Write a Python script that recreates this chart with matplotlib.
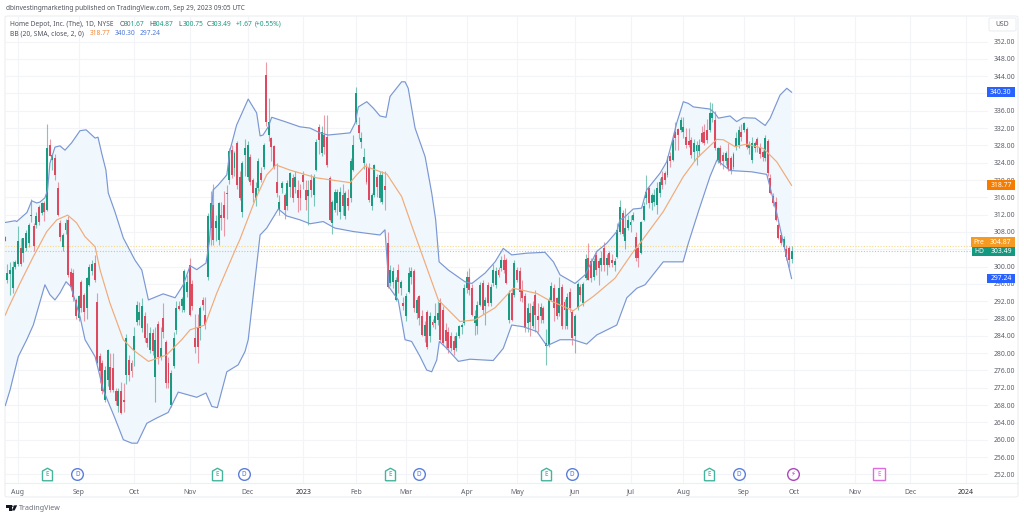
"""
Home Depot daily candles with Bollinger Bands, TradingView look
"""
import numpy as np
import matplotlib
matplotlib.use('Agg')
import matplotlib.pyplot as plt
from matplotlib.patches import FancyBboxPatch, Polygon, Rectangle, Circle
from matplotlib.path import Path
from matplotlib.transforms import blended_transform_factory

# candles, first bar is index -5 (last days of July 2022)
opens = [
    306.8,297,298.4,295,300,300.5,304.3,303.1,304.3,305.4,
    311.8,309.3,309.5,313.7,312.4,314.7,313.1,328.1,324.7,325,
    318.1,310,304.6,308.5,310.8,298.8,298.5,292.3,288.1,296.5,
    293.4,290.4,295.8,299,300.8,291.9,279.4,277.7,269.2,273.8,
    276.9,276.5,271.2,267.7,271.2,269.2,275,278.5,277.7,280.8,
    287.3,287.7,285.8,288.5,283.5,280.8,284.6,274.6,286.8,279.2,
    288.1,282.5,277.7,268.1,277,285.4,290.8,291,290,294.2,
    300.4,296,283.5,285.8,285.8,292.3,288.9,297.6,308.9,314.3,
    309,306.2,311.9,314.3,317,320,327,322.7,328.6,320.8,
    312.7,325.8,320.8,325.3,320,315.8,318.1,321.6,323.1,344.3,
    330.4,329.7,327.9,319.6,313.1,318.1,316.6,313.9,318.5,320.4,
    318.5,317.6,317.6,321.2,317.7,316.2,320,316.6,322.3,332.3,
    326.2,330.4,330,320.4,310,313.1,314.7,312.7,316.6,311.6,
    315.8,315.8,322.3,333.5,332.7,328.9,323.9,323.1,323.1,313.9,
    316.6,320.8,315.8,315,318.6,305.4,296.2,296.5,292.3,299.2,
    295,291.7,288.5,294.2,297.7,298.9,289.2,293.1,288.5,283.9,
    289.6,283.9,287.3,287,287.7,291.5,290,285.4,285,283.9,
    282.7,281.2,283.9,286,287,295,297.7,295,287,286.2,
    291.2,296.2,290.8,295.8,291.5,296.2,295.8,299.2,299.6,301.5,
    301.5,287.7,294,293.5,299.2,298.9,294.6,293.1,286.9,289.2,
    286.2,293.5,288.6,288.5,290.4,281.7,282,292.3,295,292.7,
    289.2,295.4,291.9,286.3,294.2,289.6,283.9,290.4,295.4,291.5,
    297.3,301.9,301.2,297.7,302.7,301.2,300.4,304.2,300.4,303.1,
    301.5,300.4,302.3,308,312.3,306,308.9,309.6,310.8,306.9,
    304.2,303.1,310.8,315.8,318.1,314.7,315,314.3,317,320.8,
    321.6,321.2,325.5,324.7,331.2,331.9,331.6,331.2,330,329,
    329.3,326.5,326.8,326.8,330.8,331.2,331.6,331.6,334.3,333.9,
    324.6,327.3,325.8,324.3,325,325,322.9,327.9,328.1,331.2,
    331.6,331.9,327.5,324.6,327.3,329.4,327.3,326.5,325,329,
    320.4,316.2,315,309.6,307.3,304.6,304,304.2,301.67,
]
highs = [
    307,300.5,301,301.2,301.5,309.3,306.5,306,308.5,310,
    315.6,310,312.5,314.2,315,315.2,333,329.5,326,326,
    319.6,310.8,307.7,311,311.6,299.6,299.5,292.8,293.5,297,
    294,297.5,300.5,301.5,302.7,294,280,278.5,277,281,
    280,280,272,272,273.4,273,284.5,279.5,278.5,286,
    292,291.8,292.8,289.5,287,286,285.5,286,287.5,286,
    291.5,283,279,276,285,292,292,293,299.5,298,
    302,297,289,289,291,293,293,312.3,317.5,319,
    312,315,315,317.5,318.8,327.5,328,326.8,329,322,
    324.5,329.5,329,326,320.5,319.5,325,323,328.5,347.2,
    339,330,328,324,316.5,319.8,317,320,321.9,321.5,
    322,320,319,322,320,320,321.5,321.5,329.5,333,
    332.5,335,335,321,315.5,318,318,318.5,319,317.5,
    318,325,330.4,341.4,334.5,331,327.5,324,324,317,
    323.8,321.5,322,322,322,308.1,300.4,300,297.5,300.5,
    297,293,294,300,300,299.5,293,293.5,290,287.5,
    290,289.5,288,291.5,292,292.8,291,287,286,285,
    284,285,286.5,287,296,299,299.7,296,290,292,
    296.5,297,293,296.5,296,300.5,300,300,302.5,303,
    302,294.5,295,301.5,300,300,297,294,291.5,291.5,
    292,294.5,291.5,291.5,291,285.5,293,296.5,296,293,
    297.5,296,292.5,294,295,290,289,296.5,296,296.5,
    303,305.4,302,302,303.5,302,303.5,305.6,303,303.5,
    303,302,310,315.3,313,313.5,312,312,312.5,307.9,
    304.7,310.6,315,321.2,318.5,317,318,319.5,320.5,322,
    322,325.5,326.5,330,333.5,332,334.5,334.6,332,332,
    330,329.5,329,329.5,332.5,333,334,338,337.8,336,
    327.7,328,326.5,326.8,328.5,325.5,326.5,331,332.5,333,
    333.5,332.3,329,330,329,330,328.5,327,330.5,329.5,
    321.5,317,316,310,308,307,305,304.8,304.87,
]
lows = [
    305.8,296.2,293.5,294,299.5,300.2,300.2,301,303.5,304.5,
    310.4,303.5,309,309.5,312,310.5,312.8,325.5,322.4,320,
    311.6,305.8,303.5,307.5,297.7,294.6,292,288,287.5,289.5,
    287.5,288,295.5,298,296.5,277.5,273,270.5,268.8,272.5,
    271,271,268,266.5,265.9,266.5,272.8,273.5,274.5,277,
    286.5,286.5,285,282.5,281.5,280,279.5,268.8,277.5,278.5,
    283.5,272,272,267.5,276.5,284.5,290,289.5,289.5,293,
    288.5,290,280,277.8,283,290,285.5,297,305,305,
    306,305,308.5,307,311,319,320.5,321,318,315.5,
    311.5,321,320,318.8,315,314,317.5,319.5,322.5,332.5,
    329,324.5,322.5,316,312,317,311,313,316,315,
    317,312.5,313,318,313,309.6,316,314,322,326,
    325.5,326,323,310.5,307.5,312.5,312,311,312,311,
    313,315,322,333,329.5,327.5,322.5,319,315,313,
    316,316,315,314.5,313,295,295.5,295,292,294,
    293.5,290,287.5,294,296,289.5,288,286.5,284,282.5,
    281,282.5,286,285.5,286.5,282.5,282,281,280,280.5,
    279.5,280.5,283.5,284.5,286.5,294,293.5,288.5,284.3,284.5,
    291,289,286.5,291,291,295.5,295,297.5,299,298.5,
    296,287,287.5,293,296.5,292,291.8,285,285,284,
    285.8,285,284.8,287,287,277.3,281.5,292,287.5,288,
    288.5,285.5,285.5,285.5,289.5,282,280,290,292,291,
    297,297,296.5,297,298,295.7,299,299,298,300,
    300,299,302,307.5,307,304,308.5,308,310.5,301.2,
    300,302.8,310.5,314.5,313.5,313,314,312.2,316,318,
    319,320.7,323,324.5,327,327,331,329.6,327.5,327.7,
    325.2,324.5,323.5,325.5,328.5,328,328.5,331,333.5,327,
    324,323.5,322.5,323.5,322,321.5,322.5,327,327.5,329,
    331,327.2,326,324,326.5,326.5,325,324.5,324.5,321,
    316.8,314,310.5,306.3,305,304.3,301.5,300,300.75,
]
closes = [
    306,298.5,299.2,300,301,305.8,300.5,306.6,307.8,309.7,
    312,304.7,311.6,310.4,314.8,312.7,327.3,325.6,325.8,321.2,
    312,306.8,307.4,310,298.1,295.4,292.9,288.5,293.2,290.5,
    289.6,297.3,300,300.5,297,277.7,275.8,271.2,276.2,280.8,
    271.5,271.5,268.9,271.2,266.2,268.6,283.4,275,275.8,283.9,
    291.2,289.6,290.8,283.5,282.3,284.6,280.4,283,279.2,281.3,
    285,273,273,275.4,283.5,290.4,290.3,292.5,298.9,296.5,
    288.9,291,281.5,281.5,290.4,291.2,286.5,311.7,314.8,306.2,
    310.5,314.8,311.2,311.2,316.7,326.6,321.2,326.3,318.9,315.8,
    323.9,327.3,328.1,319.6,317,318.1,324.3,320,328.1,333.5,
    333.5,327.7,323.1,317,315,319.3,313.1,319.3,321.6,315.8,
    320.8,315.8,315.8,319.6,315.4,317.7,317.7,320.8,328.9,329.3,
    331.2,327.7,323.5,310.8,315,317.3,317.3,317.3,313.9,317,
    313.9,324.3,328.1,340,330.8,329.7,325.3,319.6,315.4,316.6,
    323.5,318.5,321.2,321.2,317.7,295.4,299.2,298.9,296.9,296.5,
    296.5,290.8,293.1,298.5,298.9,290.4,292.3,288.1,284.2,286.5,
    281.5,288.5,286.5,288.5,289.2,283.1,282.3,282.7,281.2,281.2,
    280.8,283.9,286.2,286.4,295,297.7,294.6,288.9,288.5,291.2,
    295.8,290,292.3,291.5,295.4,299.2,298.9,298.1,301.5,299.2,
    296.2,293.9,287.7,300.8,296.9,294.2,292.7,285.8,290.4,287.3,
    290.8,288.9,287.7,290.6,287.7,282.3,292.3,295.6,290.4,288.5,
    295,286.2,290,293,290.4,283.5,288.5,296,293.5,296,
    301.7,297,297.3,301.2,299.2,299.6,302.1,300.4,301.9,300.4,
    300.8,301.2,308.5,313.7,307.5,309,310.8,310.4,312,301.9,
    301.9,310.4,313.9,317.3,314.7,316.6,316.6,318.1,319.6,318.9,
    320,325,324.5,329.3,329.7,330.4,333.9,332.3,328.1,328.2,
    325.8,328.5,328.1,328,328.9,328.5,329.3,335.4,335.4,327.3,
    327.3,324,324.3,326.2,322.5,322.3,326,329.6,331.6,330,
    333.1,327.7,328,328.5,328.5,328.1,326,325.4,329.6,321.6,
    317.1,314.6,310.8,306.6,305.4,306.3,302.3,301.5,303.49,
]

# Bollinger bands, read at the bends of each curve (bar index, price)
upper_idx = [-4.8,-1.1,-0.5,3.4,5.2,7.1,8.3,10.2,11.2,12.1,14,15.9,17.8,20.3,23.5,25.8,29.2,30.3,31.7,33.3,
             34.2,36.7,39.9,44.3,46.9,49.4,55,59.5,62.6,65.2,67.7,71.2,72.5,73.9,75.9,79.1,80.3,82.8,87.2,90.4,
             91.7,92.8,94.8,96.1,101.1,106.8,110.6,114.4,117.5,125.8,127.7,128.9,132.1,134.6,137.1,139.4,140.9,145.3,146.6,147.8,
             150.4,154.2,156.7,158.2,159.5,163,169.3,171.9,176.9,180.7,183.8,187,192.7,199.6,202.8,205.3,211,214.8,219.2,223,
             226.8,228,229.9,233,236.2,238.1,243.2,245.7,247.6,249.5,252,253.9,255.8,262.1,264,265.3,269.7,272.2,274.7,279.2,
             283,284.9,288.6,291.2,293]
upper_val = [310.2,310.6,310.4,312.5,315.2,314.7,314.9,315.9,317.7,323.9,327.6,327.9,326.9,328.6,331.4,331.6,329.7,329.9,326.2,322.3,
             317,312.7,306.6,301.5,299.2,292.3,293.7,292.8,295.8,300.2,299.3,300.8,305.8,317.7,318.9,321.2,326.9,332.7,338.7,335.5,
             330.2,330.4,332.3,334.5,333.5,332.3,332,330.9,330.4,330.9,333.2,336.9,338.1,336.6,334.8,334.5,339.3,342.7,342.7,341.2,
             332,325.4,317,310.8,301.1,299.2,296.5,296.1,298.5,301.1,304.2,302.7,303.1,303.3,301.1,298.1,296.1,298.1,303.5,305.4,
             308.1,310.8,311.5,313.3,313.5,317.7,321.6,324.2,328.5,333.2,338.1,337.7,336.9,336.4,335.4,334.3,334.8,333.5,334.4,334.3,
             332.6,334.3,339.6,341.2,340.3]
lower_idx = [-4.8,-3,0.1,3.3,5.8,10.2,12.1,14,15.9,18.2,20,23.5,25.4,29.2,32.3,36.7,39.9,43.1,45.2,48.8,
             52.5,56.9,60.7,67.7,71.2,73.4,75.5,79.1,83.4,86,87.2,91.7,94.2,98.6,101.8,106.8,110.6,115.6,120,127,
             137.1,139,140.5,144,146.6,149.1,152.3,154.8,156.7,158.6,159.6,162.4,166.8,171.2,180,183.8,187,191.4,196.5,200.3,
             205.3,210.3,215.4,219.2,226.8,230.6,234.4,237.5,244.4,247,251.9,253.9,257.7,262.1,264.7,269.7,277.9,283.6,287.4,291.2,
             293]
lower_val = [267.9,271.5,279.2,283.1,286.5,295.8,293.5,292.3,293.9,296.5,295.4,288.4,283.1,279.2,271.5,265,260,259.2,259.2,263.8,
             265,266.3,271,269.8,270.8,267.7,267.4,275.7,277.3,280.4,283.1,307.3,308.9,313.3,311.7,310.8,309.9,310.4,308.9,308.1,
             307.3,308.5,295.3,292.3,283.1,282.7,279.2,276.1,275.7,278.4,282.7,281.1,278.1,278.6,278.3,281.1,286.5,286.1,285,281.7,
             283.1,283.1,282.1,284.2,286.5,292.8,295,295.8,301.1,301.1,301.1,305.4,312.7,320.8,324.6,322.2,321.9,321.3,312.3,301.9,
             297.24]
basis_idx = [-4.8,-3.7,0.8,5.8,10.9,14.7,18.8,22.2,25.4,29.2,31.1,34.8,39.9,43.7,49.4,56.3,62,65.2,70.8,75.3,
             82.8,84,89.8,94.2,97.7,103,113.1,125.8,128.3,131.4,139.7,145.3,149.7,159.2,167.4,173.1,180.7,187.6,196.5,200.9,
             210.3,217.9,226.1,233.1,235.6,244.4,252,257.1,264.7,267.2,271.6,276,282.3,287.4,293]
basis_val = [288.8,290.4,296.2,302.3,308.1,310.8,311.9,310.1,306.9,304.6,299.2,291.6,283.1,280.7,278.1,279.6,283.1,285.4,286.5,293.9,
             304.6,306.2,315.4,321.2,323.5,322.3,320.5,319.4,321.2,323.2,321.4,316.2,308.5,292.3,287.3,287.7,290.5,295,293.8,292.3,
             289.8,293.1,297.3,303.5,305.4,312.7,320.8,325,329.4,329.3,327.7,328.3,327.3,324.2,318.77]

# axis labels
month_idx = [0, 23, 44, 65, 87, 108, 128, 147, 170, 189, 211, 232, 252, 275, 294, 317, 338, 359]
month_labels = ['Aug', 'Sep', 'Oct', 'Nov', 'Dec', '2023', 'Feb', 'Mar', 'Apr', 'May', 'Jun',
                'Jul', 'Aug', 'Sep', 'Oct', 'Nov', 'Dec', '2024']
price_ticks = list(range(252, 356, 4))
hidden_price_labels = [304, 340]  # these sit under the badges in the picture

# events along the bottom of the pane
earnings_idx = [11, 75.4, 140.9, 200, 261.9]
dividend_idx = [22.5, 85.5, 151.9, 209.8, 273.1]
split_idx = [293.4]
future_earnings_idx = [326.1]

pre_price = 304.87
last_price = 303.49
basis_last = 318.77
upper_last = 340.30
lower_last = 297.24

GREEN = '#1a9a80'
RED = '#dd4a60'
GREY = '#5d606b'
BLUE = '#2962ff'
ORANGE = '#f57c00'
GRID = '#f3f4f7'

plt.rcParams['font.family'] = ['Noto Sans', 'DejaVu Sans']

W, H = 1024, 518
PX_PER_USD = 4.33


def fx(x):
    return x / W


def fy(y):
    return 1 - y / H


fig = plt.figure(figsize=(W / 100, H / 100), dpi=100, facecolor='white')

# outer frame of the widget, kept behind the axes
frame = FancyBboxPatch((fx(5), fy(497)), fx(1013), (497 - 16) / H,
                       boxstyle='round,pad=0,rounding_size=0.003', transform=fig.transFigure,
                       fc='white', ec='#eceef2', lw=0.8, zorder=-2)
fig.add_artist(frame)
fig.add_artist(plt.Line2D([fx(5), fx(1018)], [fy(483), fy(483)], color='#eceef2', lw=0.8, zorder=-1))

ax = fig.add_axes([fx(5), fy(483), fx(983), (483 - 16) / H])
ax.set_facecolor('none')
ax.set_xlim(-4.92, 367.4)
ax.set_ylim(250, 357.9)
for s in ax.spines.values():
    s.set_visible(False)

ax.set_axisbelow(True)
ax.grid(True, color=GRID, lw=0.8)

ax.set_yticks(price_ticks)
ax.set_yticklabels(['' if p in hidden_price_labels else f'{p:.2f}' for p in price_ticks])
ax.yaxis.tick_right()
ax.tick_params(axis='y', length=0, pad=4, labelsize=4.9, labelcolor=GREY)
ax.set_xticks(month_idx)
ax.set_xticklabels(month_labels)
ax.tick_params(axis='x', length=0, pad=4, labelsize=5, labelcolor=GREY)
for lab in ax.get_xticklabels():
    if lab.get_text() in ('2023', '2024'):
        lab.set_color('#2a2e39')
        lab.set_fontweight('medium')

# band fill
band_x = np.concatenate([upper_idx, lower_idx[::-1]])
band_y = np.concatenate([upper_val, lower_val[::-1]])
ax.fill(band_x, band_y, color='#f0f7fd', lw=0, zorder=1)

# candles
bars = np.arange(-5, -5 + len(opens))
o, h, l, c = map(np.array, (opens, highs, lows, closes))
cols = np.where(c >= o, GREEN, RED)
ax.vlines(bars, l, h, colors=cols, lw=0.8, alpha=0.55, zorder=3)
ax.bar(bars, np.abs(c - o), bottom=np.minimum(o, c), width=0.74, color=cols, lw=0, zorder=3.2)

ax.plot(upper_idx, upper_val, color='#7b97d3', lw=0.85, zorder=4)
ax.plot(lower_idx, lower_val, color='#7b97d3', lw=0.85, zorder=4)
ax.plot(basis_idx, basis_val, color='#f0ab78', lw=0.85, zorder=4)

ax.axhline(pre_price, color='#f6d98a', lw=0.8, ls=(0, (1, 1.5)), zorder=2)
ax.axhline(last_price, color='#9cd6ca', lw=0.8, ls=(0, (1, 1.5)), zorder=2)

# event markers
house = Path([(-0.8, -1), (0.8, -1), (0.8, 0.55), (0, 1), (-0.8, 0.55), (-0.8, -1)])
ev_y = 252
ax.plot(earnings_idx, [ev_y] * len(earnings_idx), ls='', marker=house, ms=9, mfc='white',
        mec='#45b39d', mew=1, zorder=5)
ax.plot(dividend_idx, [ev_y] * len(dividend_idx), ls='', marker='o', ms=8.4, mfc='white',
        mec='#5b7fd8', mew=1, zorder=5)
ax.plot(split_idx, [ev_y], ls='', marker='o', ms=8.4, mfc='white', mec='#ab47bc', mew=1, zorder=5)
ax.plot(future_earnings_idx, [ev_y], ls='', marker='s', ms=8, mfc='white', mec='#e06be0', mew=1, zorder=5)
for x in earnings_idx:
    ax.text(x, ev_y, 'E', color='#2f9e88', fontsize=4.5, ha='center', va='center', zorder=6)
for x in dividend_idx:
    ax.text(x, ev_y, 'D', color='#4a6fd0', fontsize=4.5, ha='center', va='center', zorder=6)
ax.text(split_idx[0], ev_y, '⚡', color='#ab47bc', fontsize=5, ha='center', va='center', zorder=6,
        family=['DejaVu Sans'])
ax.text(future_earnings_idx[0], ev_y, 'E', color='#d65fd6', fontsize=4.5, ha='center', va='center', zorder=6)

# price badges on the axis
trans = blended_transform_factory(fig.transFigure, ax.transData)


def badge(price, text, color, x0=987, x1=1015, shift_px=0):
    # shift_px moves a badge up, the chart does this when two prices collide
    mid = price + shift_px / PX_PER_USD
    ax.add_patch(Rectangle((fx(x0), mid - 4.9 / PX_PER_USD), fx(x1 - x0), 9.8 / PX_PER_USD, transform=trans,
                           fc=color, ec='none', clip_on=False, zorder=8))
    ax.text(fx((x0 + x1) / 2), mid - 0.1, text, transform=trans, color='white', fontsize=4.9,
            ha='center', va='center', clip_on=False, zorder=9)


badge(upper_last, f'{upper_last:.2f}', BLUE)
badge(basis_last, f'{basis_last:.2f}', ORANGE)
badge(pre_price, f'{pre_price:.2f}', '#f59a23', shift_px=3.6)
badge(pre_price, 'Pre', '#f59a23', 971, 986.5, shift_px=3.6)
badge(last_price, f'{last_price:.2f}', '#12997f')
badge(last_price, 'HD', '#12997f', 972, 986.5)
badge(lower_last, f'{lower_last:.2f}', BLUE)

# USD box
fig.add_artist(FancyBboxPatch((fx(989), fy(31)), fx(27), 13 / H, boxstyle='round,pad=0,rounding_size=0.002',
                              transform=fig.transFigure, fc='white', ec='#eceef2', lw=0.8))
fig.text(fx(1002.5), fy(24.7), 'USD', color=GREY, fontsize=4.9, ha='center', va='center')

# header texts
fig.text(fx(6), fy(8.7), 'dbinvestingmarketing published on TradingView.com, Sep 29, 2023 09:05 UTC',
         color='#50535e', fontsize=4.7, va='center')

row1 = [(10, 'Home Depot, Inc. (The), 1D, NYSE', '#50535e'), (119.3, 'O', '#50535e'), (124, '301.67', GREEN),
        (149, 'H', '#50535e'), (153, '304.87', GREEN), (178.3, 'L', '#50535e'), (182.3, '300.75', GREEN),
        (206.7, 'C', '#50535e'), (211, '303.49', GREEN), (235.3, '+1.67', GREEN), (254.3, '(+0.55%)', GREEN)]
for x, s, col in row1:
    fig.text(fx(x), fy(24), s, color=col, fontsize=4.8, va='center')

row2 = [(10, 'BB (20, SMA, close, 2, 0)', '#50535e'), (90, f'{basis_last:.2f}', '#f08a3c'),
        (115, f'{upper_last:.2f}', '#4f79d6'), (140, f'{lower_last:.2f}', '#4f79d6')]
for x, s, col in row2:
    fig.text(fx(x), fy(33.7), s, color=col, fontsize=4.8, va='center')

# footer logo
logo = '#131722'
for pts in ([(6, 505.3), (11.5, 505.3), (11.5, 510.5), (8.5, 510.5), (8.5, 507.6), (6, 507.6)],
            [(14.3, 505.3), (17.2, 505.3), (14.6, 510.5), (11.8, 510.5)]):
    fig.add_artist(Polygon([(fx(a), fy(b)) for a, b in pts], transform=fig.transFigure, fc=logo, ec='none'))
fig.add_artist(Circle((fx(12.8), fy(506.2)), 1.1 / W, transform=fig.transFigure, fc=logo, ec='none'))
fig.text(fx(19), fy(508), 'TradingView', color='#6a6d78', fontsize=5.1, va='center')

fig.savefig('out.png', dpi=100, facecolor='white')
